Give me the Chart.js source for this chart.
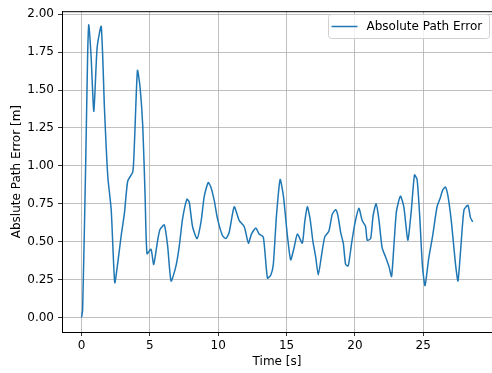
<!DOCTYPE html>
<html>
<head>
<meta charset="utf-8">
<script src="https://cdn.jsdelivr.net/npm/chart.js@4.4.1/dist/chart.umd.min.js"></script>
<style>
  html, body { margin: 0; padding: 0; background: #fff; }
  #wrap { width: 492px; height: 373px; }
</style>
</head>
<body>
<div id="wrap"><canvas id="apeChart"></canvas></div>
<script>
// time stamps [s] and absolute path error [m]
const times = [
    0, 0.08, 0.3, 0.45, 0.53, 0.7, 0.9, 1.14, 1.44, 1.68, 1.92, 2.17, 2.43, 2.65, 2.9,
    3.14, 3.38, 3.75, 3.87, 4.09, 4.28, 4.48, 4.65, 4.79, 5.08, 5.28, 5.57, 5.74, 6.06,
    6.3, 6.55, 6.91, 7.15, 7.39, 7.71, 7.88, 8.12, 8.45, 8.74, 8.98, 9.27, 9.46, 9.71,
    9.95, 10.31, 10.56, 10.8, 11.17, 11.53, 11.9, 12.21, 12.43, 12.75, 12.99, 13.3,
    13.6, 13.85, 14.03, 14.26, 14.53, 14.77, 15.06, 15.3, 15.55, 15.79, 16.15, 16.33,
    16.52, 16.72, 16.93, 17.13, 17.32, 17.54, 17.79, 18.1, 18.34, 18.59, 18.76, 18.96,
    19.15, 19.32, 19.51, 19.76, 20.0, 20.29, 20.53, 20.78, 20.9, 21.15, 21.33, 21.55,
    21.75, 21.99, 22.24, 22.48, 22.68, 22.85, 23.04, 23.33, 23.58, 23.87, 24.11, 24.36,
    24.55, 24.74, 24.94, 25.13, 25.4, 25.69, 26.01, 26.25, 26.42, 26.62, 26.81, 27.06,
    27.35, 27.54, 27.74, 27.98, 28.27, 28.45, 28.62
];
const pathErrors = [
    0, 0.05, 1.0, 1.75, 1.93, 1.72, 1.36, 1.78, 1.92, 1.37, 0.93, 0.71, 0.23, 0.36, 0.54,
    0.69, 0.90, 0.96, 1.15, 1.63, 1.52, 1.26, 0.80, 0.42, 0.45, 0.35, 0.51, 0.58, 0.61,
    0.47, 0.24, 0.34, 0.47, 0.65, 0.78, 0.76, 0.60, 0.52, 0.63, 0.80, 0.89, 0.86, 0.77,
    0.65, 0.54, 0.52, 0.56, 0.73, 0.64, 0.60, 0.49, 0.55, 0.59, 0.55, 0.53,
    0.26, 0.28, 0.35, 0.67, 0.91, 0.80, 0.54, 0.38, 0.46, 0.55, 0.49, 0.63,
    0.73, 0.65, 0.50, 0.40, 0.28, 0.40, 0.53, 0.57, 0.68, 0.71, 0.67, 0.56,
    0.49, 0.35, 0.34, 0.49, 0.62, 0.72, 0.64, 0.60, 0.51, 0.52, 0.67, 0.75,
    0.65, 0.46, 0.40, 0.34, 0.27, 0.47, 0.70, 0.80, 0.73, 0.51, 0.69, 0.94,
    0.91, 0.67, 0.34, 0.21, 0.39, 0.54, 0.73, 0.79, 0.84, 0.86, 0.80, 0.63,
    0.36, 0.24, 0.45, 0.71, 0.74, 0.66, 0.63
];
const xTicks = [0, 5, 10, 15, 20, 25];
const yTicks = [0, 0.25, 0.5, 0.75, 1.0, 1.25, 1.5, 1.75, 2.0];

const font = { family: 'DejaVu Sans', size: 12 };
Chart.defaults.font.family = 'DejaVu Sans';
Chart.defaults.color = '#000';

// top spine + matplotlib-like legend box
const framePlugin = {
    id: 'frame',
    afterDraw(chart) {
        const { ctx, chartArea: a } = chart;
        ctx.save();
        ctx.strokeStyle = '#000';
        ctx.lineWidth = 1;
        ctx.beginPath();
        ctx.moveTo(a.left, a.top + 0.5);
        ctx.lineTo(a.right, a.top + 0.5);
        ctx.stroke();

        const ds = chart.data.datasets[0];
        const bx = 328.5, by = 14.5, bw = 161, bh = 24;
        ctx.fillStyle = 'rgba(255,255,255,0.8)';
        ctx.strokeStyle = '#d0d0d0';
        ctx.beginPath();
        ctx.roundRect(bx, by, bw, bh, 3);
        ctx.fill();
        ctx.stroke();
        ctx.strokeStyle = ds.borderColor;
        ctx.lineWidth = 1.5;
        ctx.beginPath();
        ctx.moveTo(bx + 3, by + 12);
        ctx.lineTo(bx + 29, by + 12);
        ctx.stroke();
        ctx.fillStyle = '#000';
        ctx.font = '12px "DejaVu Sans"';
        ctx.textBaseline = 'middle';
        ctx.fillText(ds.label, bx + 38, by + 12.5);
        ctx.restore();
    }
};

new Chart(document.getElementById('apeChart'), {
    type: 'line',
    data: {
        datasets: [{
            label: 'Absolute Path Error',
            data: times.map((t, i) => ({ x: t, y: pathErrors[i] })),
            borderColor: '#1f77b4',
            borderWidth: 1.5,
            pointRadius: 0,
            tension: 0.2,
            fill: false
        }]
    },
    options: {
        responsive: true,
        maintainAspectRatio: false,
        animation: false,
        layout: { padding: { top: 11, right: 0, left: 0, bottom: 0 } },
        plugins: {
            legend: { display: false },
            tooltip: { enabled: false }
        },
        scales: {
            x: {
                type: 'linear',
                min: -1.43,
                max: 30.03,
                afterBuildTicks: s => { s.ticks = xTicks.map(v => ({ value: v })); },
                afterFit: s => { s.height = 41; },
                ticks: { font, color: '#000', padding: 3, maxRotation: 0 },
                grid: { color: '#b0b0b0', lineWidth: 0.8, tickColor: '#000', tickLength: 4 },
                border: { color: '#000' },
                title: { display: true, text: 'Time [s]', font, color: '#000', padding: { top: 0, bottom: 4 } }
            },
            y: {
                min: -0.096,
                max: 2.02,
                afterBuildTicks: s => { s.ticks = yTicks.map(v => ({ value: v })); },
                afterFit: s => { s.width = 62; },
                ticks: { font, color: '#000', padding: 4, callback: v => v.toFixed(2) },
                grid: { color: '#b0b0b0', lineWidth: 0.8, tickColor: '#000', tickLength: 4 },
                border: { color: '#000' },
                title: { display: true, text: 'Abslute Path Error [m]', font, color: '#000', padding: { top: 10, bottom: 0 } }
            }
        }
    },
    plugins: [framePlugin]
});
</script>
</body>
</html>
